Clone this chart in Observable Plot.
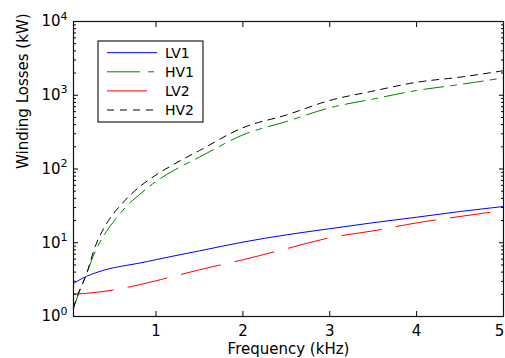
<!DOCTYPE html>
<html><head><meta charset="utf-8">
<script src="https://cdn.jsdelivr.net/npm/d3@7"></script>
<script src="https://cdn.jsdelivr.net/npm/@observablehq/plot@0.6"></script>
<style>body{margin:0;background:#fff} #chart svg{display:block;overflow:hidden}</style>
</head><body><div id="chart"></div>
<script>
// Frequency grid (kHz)
const freq = [0.05, 0.1, 0.15, 0.2, 0.3, 0.4, 0.5, 0.6, 0.7, 0.8, 1, 1.2, 1.5, 2, 2.5, 3, 3.5, 4, 4.5, 5];
// Winding losses (kW)
const lv1 = [2.78, 3.05, 3.28, 3.5, 3.9, 4.25, 4.55, 4.8, 5.03, 5.27, 5.9, 6.6, 7.76, 10.2, 12.8, 15.5, 18.7, 22.2, 26.5, 31];
const hv1 = [1.3, 1.9, 2.7, 3.8, 7.6, 12.6, 18.6, 26, 35, 44, 68, 95, 145, 290, 440, 676, 890, 1160, 1400, 1720];
const lv2 = [2.03, 2.03, 2.04, 2.06, 2.12, 2.19, 2.28, 2.4, 2.53, 2.68, 3.05, 3.5, 4.3, 5.87, 8.3, 11.7, 14.5, 18.6, 22.7, 27.4];
const hv2 = [1.3, 2.0, 2.7, 3.8, 8.9, 15.8, 24, 33, 44, 56, 83, 115, 178, 363, 540, 850, 1140, 1500, 1760, 2150];
const seriesNames = ["LV1", "HV1", "LV2", "HV2"];
const xTicks = [1, 2, 3, 4, 5];
const yTicks = [1, 10, 100, 1000, 10000];
const yMinor = [1, 10, 100, 1000].flatMap(d => [2,3,4,5,6,7,8,9].map(m => d * m));

const rows = freq.map((f, i) => ({f, LV1: lv1[i], HV1: hv1[i], LV2: lv2[i], HV2: hv2[i]}));
const styles = {
  LV1: {stroke: "#0000ff", dash: null},
  HV1: {stroke: "#008000", dash: "20,7,6,7"},
  LV2: {stroke: "#ff0000", dash: "40,15"},
  HV2: {stroke: "#000000", dash: "7,6"}
};
const font = "'DejaVu Sans', Verdana, sans-serif";

function legendMark(index, scales, values, dims) {
  const g = d3.create("svg:g");
  const x0 = dims.marginLeft + 25, y0 = dims.marginTop + 20;
  g.append("rect").attr("x", x0).attr("y", y0).attr("width", 105).attr("height", 81)
    .attr("fill", "white").attr("stroke", "#222").attr("stroke-width", 1.2);
  seriesNames.forEach((name, i) => {
    const y = y0 + 11.7 + i * 19.1;
    g.append("line").attr("x1", x0 + 9).attr("x2", x0 + 59).attr("y1", y).attr("y2", y)
      .attr("stroke", styles[name].stroke).attr("stroke-width", 1)
      .attr("stroke-dasharray", name === "HV1" ? "33,8,6,8" : styles[name].dash);
    g.append("text").attr("x", x0 + 67).attr("y", y).attr("dy", "0.36em")
      .attr("text-anchor", "start").attr("font-size", 14).attr("fill", "black").text(name);
  });
  return g.node();
}

const chart = Plot.plot({
  width: 505, height: 358,
  marginLeft: 73, marginRight: 2, marginTop: 21, marginBottom: 42,
  style: {fontFamily: font, fontSize: "15px", background: "white", color: "black"},
  x: {domain: [0.05, 5]},
  y: {type: "log", domain: [1, 10000]},
  marks: [
    ...seriesNames.map(name => Plot.line(rows, {
      x: "f", y: name, stroke: styles[name].stroke, strokeWidth: 1,
      strokeDasharray: styles[name].dash, curve: "monotone-x"
    })),
    Plot.axisX({ticks: xTicks, tickSize: -5, tickPadding: 14, tickFormat: d => String(d), label: null}),
    Plot.axisX({anchor: "top", ticks: xTicks, tickSize: -5, tickFormat: () => "", label: null}),
    Plot.axisY({ticks: yTicks, tickSize: -5, tickPadding: 11, tickFormat: d => "10^" + Math.round(Math.log10(d)), label: null}),
    Plot.axisY({ticks: yMinor, tickSize: -3, tickFormat: () => "", label: null}),
    Plot.axisY({anchor: "right", ticks: yTicks, tickSize: -5, tickFormat: () => "", label: null}),
    Plot.axisY({anchor: "right", ticks: yMinor, tickSize: -3, tickFormat: () => "", label: null}),
    Plot.frame({stroke: "#111", strokeWidth: 1.2}),
    Plot.text(["Winding Losses (kW)"], {frameAnchor: "left", rotate: -90, dx: -50, fontSize: 15}),
    Plot.text(["Frequency (kHz)"], {frameAnchor: "bottom", dy: 33, lineAnchor: "middle", fontSize: 15}),
    legendMark
  ]
});

d3.select(chart).selectAll('g[aria-label="y-axis tick label"] text').each(function () {
  const t = this.textContent;
  if (!t.startsWith("10^")) return;
  const exp = t.slice(3);
  const el = d3.select(this);
  el.text("10");
  el.append("tspan").attr("dy", "-0.6em").attr("font-size", "11px").text(exp);
});
// keep the last x tick label inside the picture
d3.select(chart).selectAll('g[aria-label="x-axis tick label"] text').each(function () {
  if (this.textContent === String(xTicks[xTicks.length - 1])) d3.select(this).attr("dx", -4);
});

document.getElementById("chart").appendChild(chart);
</script>
</body></html>
